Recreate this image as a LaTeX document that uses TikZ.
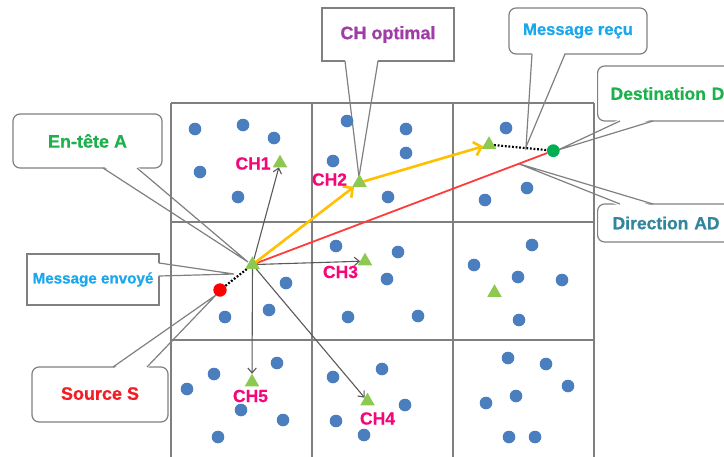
\documentclass[tikz,border=0pt]{standalone}
\usepackage{fontspec}
\setmainfont{Liberation Sans}
\newfontfamily\heavyfont[FakeBold=0.6]{Liberation Sans Bold}
\usetikzlibrary{shapes.geometric,arrows.meta,calc}
\definecolor{dotblue}{HTML}{4A7EBF}
\definecolor{trigreen}{HTML}{8DC850}
\definecolor{chpink}{HTML}{F5077A}
\definecolor{entete}{HTML}{1DB14B}
\definecolor{msgblue}{HTML}{1AA7EC}
\definecolor{srcred}{HTML}{F21C24}
\definecolor{optpurple}{HTML}{A03CA8}
\definecolor{dirteal}{HTML}{31859C}
\definecolor{gridgray}{HTML}{7F7F7F}
\definecolor{callgray}{HTML}{808080}
\definecolor{arrgray}{HTML}{595959}
\definecolor{yel}{HTML}{FFC000}
\definecolor{redline}{HTML}{FF3B3B}
\definecolor{srcdot}{HTML}{FF0000}
\definecolor{dgreen}{HTML}{00B050}
\pgfdeclarelayer{bg}
\pgfdeclarelayer{gridlayer}
\pgfdeclarelayer{fg}
\pgfsetlayers{bg,gridlayer,main,fg}
\tikzset{
  bdot/.style={circle, fill=dotblue, minimum size=12.6pt, inner sep=0pt, outer sep=0pt},
  tri/.style={regular polygon, regular polygon sides=3, minimum size=16.7pt, inner sep=0pt, outer sep=0pt, fill=trigreen},
  chlab/.style={font=\heavyfont\fontsize{17.5}{20}\selectfont, text=chpink, inner sep=0pt},
  callbox/.style={draw=callgray, line width=1.2pt, fill=white, inner sep=0pt, font=\heavyfont\fontsize{18}{21}\selectfont},
  rbox/.style={callbox, rounded corners=7pt},
  callline/.style={draw=callgray, line width=1.2pt},
  gridline/.style={draw=gridgray, line width=1.5pt},
  yelarrow/.style={draw=yel, line width=2.6pt, -{Straight Barb[length=7pt,width=14pt]}},
  redl/.style={draw=redline, line width=1.8pt},
  grayarrow/.style={draw=arrgray, line width=1.1pt, -{Straight Barb[length=5pt,width=8.5pt]}},
  dotline/.style={draw=black, line width=2.2pt, dash pattern=on 1.8pt off 1.8pt},
}
\begin{document}
\begin{tikzpicture}[x=1pt,y=-1pt]
\useasboundingbox (0,0) rectangle (724,456);
\clip (0,0) rectangle (724,456);

% ---------- sensors, cluster heads, source, destination ----------
\begin{pgfonlayer}{fg}
\foreach \x/\y [count=\i] in {195/129, 243/125, 274/138, 200/172, 238/197,
  347/121, 406/129, 406/153, 333/161, 388/197,
  506/128, 527/188, 485/200,
  286/283, 225/317, 269/310,
  336/246, 398/252, 387/279, 348/317, 418/316,
  532/245, 474/265, 518/277, 562/280, 519/320,
  277/363, 214/374, 187/389, 241/410, 283/420, 218/437,
  333/377, 382/369, 405/405, 336/421, 364/435,
  508/358, 546/364, 568/386, 516/396, 486/403, 509/437, 535/437}
  \node[bdot] (n\i) at (\x,\y) {};

\node[tri] (A)   at (252.5,264.6) {};
\node[tri] (CH1) at (280,163.1) {};
\node[tri] (CH2) at (359.5,182.6) {};
\node[tri] (CH3) at (365,261.1) {};
\node[tri] (CH4) at (367.5,401.1) {};
\node[tri] (CH5) at (252,382.1) {};
\node[tri] (T6)  at (489,144.6) {};
\node[tri] (T7)  at (494.5,292.6) {};

\node[circle, fill=srcdot, minimum size=13.4pt, inner sep=0pt] (S) at (220,290) {};
\node[circle, fill=dgreen, minimum size=12.8pt, inner sep=0pt] (D) at (553.3,150.7) {};

\node[chlab] (l1) at (253,163.5) {CH1};
\node[chlab] (l2) at (329.5,179.5) {CH2};
\node[chlab] (l3) at (340.5,272) {CH3};
\node[chlab] (l4) at (377.5,418.5) {CH4};
\node[chlab] (l5) at (250.5,396) {CH5};
\end{pgfonlayer}

% ---------- connectors ----------
\draw[redl] (A) -- (D);
\draw[yelarrow] (A) -- (CH2);
\draw[yelarrow] (CH2) -- (T6);
\draw[grayarrow] (A) -- (CH1);
\draw[grayarrow] (A) -- (CH3);
\draw[grayarrow] (A) -- (CH4);
\draw[grayarrow] (A) -- (CH5);
\draw[dotline] (S) -- (A);
\draw[dotline] (T6) -- (D);

% ---------- grid ----------
\begin{pgfonlayer}{gridlayer}
\foreach \gx in {171,312,453,594} \draw[gridline] (\gx,103) -- (\gx,460);
\foreach \gy in {103,222,340} \draw[gridline] (171,\gy) -- (594,\gy);
\end{pgfonlayer}

% ---------- callouts ----------
\begin{pgfonlayer}{bg}
% En-tete A
\node[rbox, minimum width=149pt, minimum height=54pt, text=entete] (cEn) at (87.5,141) {En-tête A};
\coordinate (enTip) at (248,262);
\fill[white] (103,166) -- (enTip) -- (137,166) -- cycle;
\draw[callline] (103,168) -- (enTip) -- (137,168);

% Message envoye
\node[callbox, minimum width=132pt, minimum height=51pt, text=msgblue, font=\heavyfont\fontsize{15.2}{18}\selectfont] (cMe) at (93,279.5) {\raisebox{1.5pt}{Message envoyé}};
\coordinate (meTip) at (234,274);
\fill[white] (157,263) -- (meTip) -- (157,276) -- cycle;
\draw[callline] (159,263) -- (meTip) -- (159,276);

% Source S
\node[rbox, minimum width=136pt, minimum height=55pt, text=srcred] (cSo) at (100,394.5) {\raisebox{2pt}{Source S}};
\coordinate (soTip) at (216,295);
\fill[white] (113,369) -- (soTip) -- (147,369) -- cycle;
\draw[callline] (113,367) -- (soTip) -- (147,367);

% CH optimal
\node[callbox, minimum width=132pt, minimum height=53pt, text=optpurple] (cOp) at (388,34.5) {\raisebox{-2pt}{CH optimal}};
\coordinate (opTip) at (359,177);
\fill[white] (345,59) -- (opTip) -- (378,59) -- cycle;
\draw[callline] (345,61) -- (opTip) -- (378,61);

% Message recu
\node[rbox, minimum width=138pt, minimum height=46pt, text=msgblue, font=\heavyfont\fontsize{16.6}{19}\selectfont] (cMr) at (578,31) {Message reçu};
\coordinate (mrTip) at (526,147);
\fill[white] (532,52) -- (mrTip) -- (565,52) -- cycle;
\draw[callline] (532,54) -- (mrTip) -- (565,54);

% Destination D
\node[rbox, anchor=west, minimum height=55pt, inner xsep=13pt, text width=150pt, align=left, text=entete, font=\heavyfont\fontsize{17.5}{20}\selectfont] (cDe) at (597,93.5) {\raisebox{-3pt}{Destination D}};
\coordinate (deTip) at (558,150);
\fill[white] (620,119) -- (deTip) -- (653,119) -- cycle;
\draw[callline] (620,121) -- (deTip) -- (653,121);

% Direction AD
\node[rbox, anchor=west, minimum height=38pt, inner xsep=15pt, text width=150pt, align=left, text=dirteal, font=\heavyfont\fontsize{17.5}{20}\selectfont] (cDi) at (597,223) {\raisebox{-2pt}{Direction AD}};
\coordinate (diTip) at (518,163.5);
\fill[white] (620,206) -- (diTip) -- (653,206) -- cycle;
\draw[callline] (620,204) -- (diTip) -- (653,204);
\end{pgfonlayer}
\end{tikzpicture}
\end{document}
